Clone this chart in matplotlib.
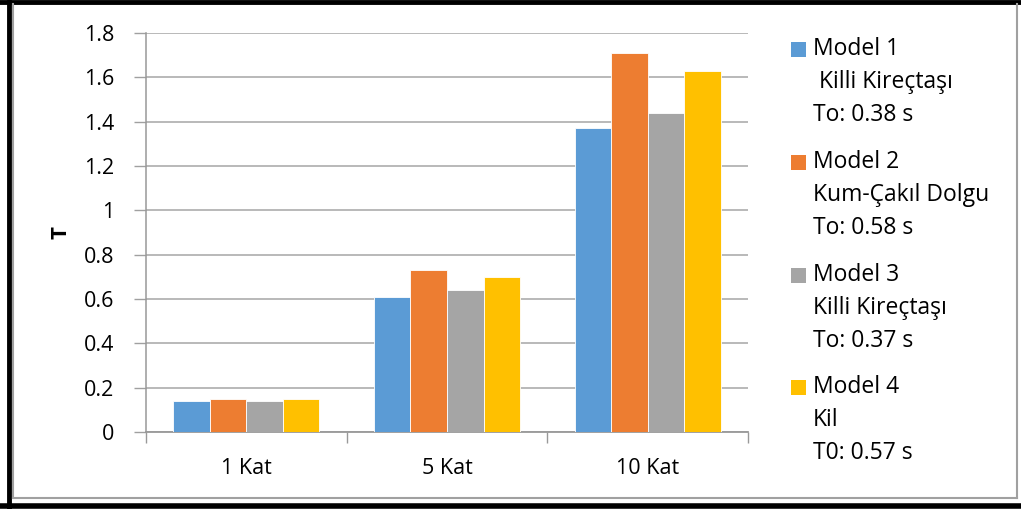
import matplotlib
matplotlib.use("Agg")
import matplotlib.pyplot as plt
from matplotlib.patches import Rectangle
from matplotlib.lines import Line2D
import numpy as np

categories = ["1 Kat", "5 Kat", "10 Kat"]
model1 = [0.14, 0.61, 1.37]
model2 = [0.15, 0.73, 1.71]
model3 = [0.14, 0.64, 1.44]
model4 = [0.15, 0.70, 1.63]
series = [model1, model2, model3, model4]
legend_lines = [
    ["Model 1", " Killi Kireçtaşı", "To: 0.38 s"],
    ["Model 2", "Kum-Çakıl Dolgu", "To: 0.58 s"],
    ["Model 3", "Killi Kireçtaşı", "To: 0.37 s"],
    ["Model 4", "Kil", "T0: 0.57 s"],
]
colors = ["#5B9BD5", "#ED7D31", "#A5A5A5", "#FFC000"]
yticks = [0, 0.2, 0.4, 0.6, 0.8, 1, 1.2, 1.4, 1.6, 1.8]
ytick_labels = ["0", "0.2", "0.4", "0.6", "0.8", "1", "1.2", "1.4", "1.6", "1.8"]

W, H = 1021, 509
plt.rcParams['font.family'] = ['Open Sans', 'DejaVu Sans']
fig = plt.figure(figsize=(W / 100, H / 100), dpi=100)

def px(x, y):
    return x / W, 1 - y / H

ax = fig.add_axes([146 / W, 1 - 432 / H, (748 - 146) / W, (432 - 33) / H])
x = np.arange(len(categories))
bw = 0.182
for i, (vals, c) in enumerate(zip(series, colors)):
    ax.bar(x + (i - 1.5) * bw, vals, width=bw, color=c, edgecolor='white', linewidth=0.6, zorder=3)

ax.set_xlim(-0.5, 2.5)
ax.set_ylim(0, 1.8)
ax.set_yticks(yticks)
ax.set_yticklabels(ytick_labels, fontsize=15.5)
ax.set_xticks(x)
ax.set_xticklabels(categories, fontsize=15.5)
ax.set_xticks([-0.5, 0.5, 1.5, 2.5], minor=True)
ax.tick_params(axis='x', which='major', length=0, pad=19)
ax.tick_params(axis='x', which='minor', length=8, color='#999999', width=1)
ax.tick_params(axis='y', length=9, color='#A0A0A0', width=1, pad=14)
ax.grid(axis='y', color='#A6A6A6', linewidth=1.1, zorder=0)
for s in ['top', 'right']:
    ax.spines[s].set_visible(False)
ax.spines['left'].set_color('#999999')
ax.spines['bottom'].set_color('#999999')
ax.spines['left'].set_linewidth(1.1)
ax.spines['bottom'].set_linewidth(1.3)
ax.set_ylabel("T", fontsize=16, fontweight='bold', labelpad=9)

# legend
tops = [49, 162, 275, 387]
for i in range(4):
    y0 = tops[i]
    fx, fy = px(791, y0 + 7.5)
    fig.add_artist(Rectangle((fx, fy), 15 / W, 15 / H, facecolor=colors[i],
                             edgecolor='none', transform=fig.transFigure))
    for j, t in enumerate(legend_lines[i]):
        tx, ty = px(813, y0 + j * 33)
        fig.text(tx, ty, t, fontsize=16.5, va='center', ha='left')

# borders
fig.add_artist(Line2D([9 / W, 9 / W], [0, 1], color='black', linewidth=3.5, transform=fig.transFigure))
fig.add_artist(Line2D([0, 1], [1 - 1.5 / H, 1 - 1.5 / H], color='black', linewidth=3.5, transform=fig.transFigure))
fig.add_artist(Line2D([0, 1], [1 - 506 / H, 1 - 506 / H], color='black', linewidth=4, transform=fig.transFigure))
g = '#A0A0A0'
fig.add_artist(Line2D([13 / W, 13 / W], [1 - 498 / H, 1 - 4 / H], color=g, linewidth=1.5, transform=fig.transFigure))
fig.add_artist(Line2D([1017 / W, 1017 / W], [1 - 498 / H, 1 - 4 / H], color=g, linewidth=1.5, transform=fig.transFigure))
fig.add_artist(Line2D([13 / W, 1017 / W], [1 - 498 / H, 1 - 498 / H], color=g, linewidth=1.5, transform=fig.transFigure))

fig.savefig("out.png", dpi=100)
